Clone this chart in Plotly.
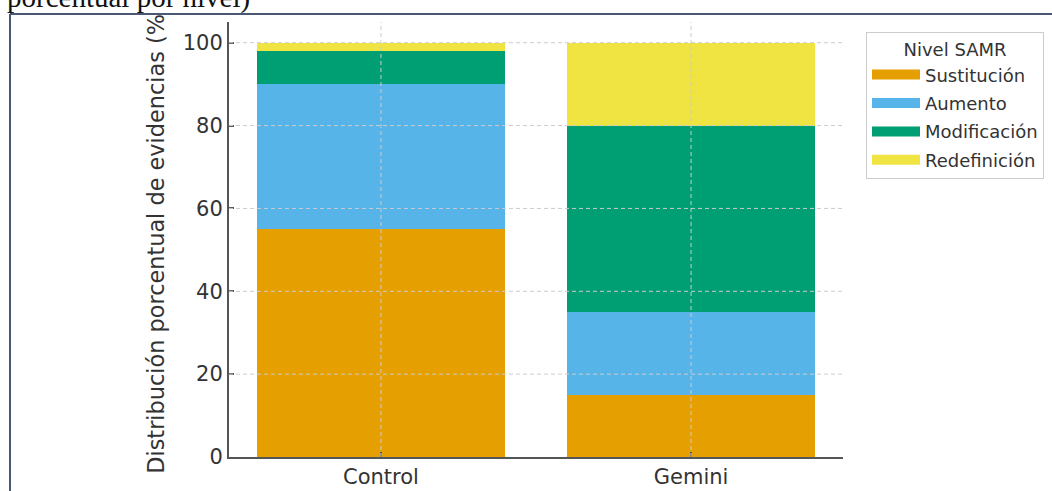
import plotly.graph_objects as go

categories = ["Control", "Gemini"]
levels = ["Sustitución", "Aumento", "Modificación", "Redefinición"]
sustitucion = [55, 15]
aumento = [35, 20]
modificacion = [8, 45]
redefinicion = [2, 20]
series = [sustitucion, aumento, modificacion, redefinicion]
colors = ["#E69F00", "#56B4E9", "#009E73", "#F0E442"]
y_ticks = [0, 20, 40, 60, 80, 100]

y_title = "Distribución porcentual de evidencias (%)"
legend_title = "Nivel SAMR"
caption = "porcentual por nivel)"

W, H = 1052, 491
L, R, T, B = 229, 843, 22, 457  # plot area in px
pw, ph = R - L, B - T


def px_x(px):
    return (px - L) / pw


def px_y(py):
    return (B - py) / ph


TEXT = "#333333"
FONT = "DejaVu Sans"

fig = go.Figure()
for name, vals, col in zip(levels, series, colors):
    fig.add_trace(go.Bar(
        x=categories, y=vals, name=name, marker=dict(color=col, line=dict(width=0)),
        width=0.8, showlegend=False,
    ))
# legend swatches (wide rectangles like the reference)
for name, col in zip(levels, colors):
    fig.add_trace(go.Scatter(
        x=[None], y=[None], mode="lines", name=name, legendgroup=name,
        line=dict(color=col, width=14), showlegend=True, hoverinfo="skip",
    ))

shapes = []
# grid drawn above bars, as in the reference
for yv in y_ticks[1:]:
    shapes.append(dict(type="line", xref="paper", yref="y", x0=0, x1=1, y0=yv, y1=yv,
                       line=dict(color="#cccccc", width=1, dash="4px,3px"), layer="above"))
for i in range(len(categories)):
    shapes.append(dict(type="line", xref="x", yref="paper", x0=i, x1=i, y0=0, y1=1,
                       line=dict(color="#cccccc", width=1, dash="4px,3px"), layer="above"))
# document frame
frame_col = "#4a5873"
shapes.append(dict(type="line", xref="paper", yref="paper", x0=px_x(10), x1=px_x(1060),
                   y0=px_y(14), y1=px_y(14), line=dict(color=frame_col, width=2), layer="above"))
shapes.append(dict(type="line", xref="paper", yref="paper", x0=px_x(10), x1=px_x(10),
                   y0=px_y(14), y1=px_y(500), line=dict(color=frame_col, width=2), layer="above"))

fig.update_layout(
    width=W, height=H,
    margin=dict(l=L, r=W - R, t=T, b=H - B, pad=0, autoexpand=False),
    barmode="stack",
    bargap=0.2,
    plot_bgcolor="white", paper_bgcolor="white",
    font=dict(family=FONT, color=TEXT, size=21),
    shapes=shapes,
    xaxis=dict(
        type="category", range=[-0.49, 1.49], showgrid=False, zeroline=False,
        showline=True, linecolor="#555555", linewidth=2, automargin=False,
        ticks="inside", ticklen=5, tickwidth=1.5, tickcolor="#555555",
        tickfont=dict(size=21, color=TEXT),
    ),
    yaxis=dict(
        range=[0, 105], tickvals=y_ticks, showgrid=False, zeroline=False,
        showline=True, linecolor="#555555", linewidth=2, automargin=False,
        ticks="inside", ticklen=5, tickwidth=1.5, tickcolor="#555555",
        tickfont=dict(size=21, color=TEXT),
        title=dict(text=y_title, font=dict(size=22.4, color=TEXT), standoff=12),
    ),
    legend=dict(
        x=px_x(866), y=px_y(32), xanchor="left", yanchor="top",
        bgcolor="white", bordercolor="#cccccc", borderwidth=1,
        font=dict(size=18, color=TEXT, family=FONT),
        title=dict(text=legend_title, side="top center", font=dict(size=18, color=TEXT)),
        traceorder="grouped", tracegroupgap=2, itemwidth=48,
    ),
    annotations=[
        # white mask: the page above the frame line hides the top of the axis title
        dict(text=" ", xref="paper", yref="paper", x=px_x(135), y=px_y(13),
             xanchor="left", yanchor="bottom", showarrow=False, bgcolor="white",
             width=50, height=14, borderpad=0, borderwidth=0),
        dict(text=caption, xref="paper", yref="paper", x=px_x(5), y=px_y(16),
             xanchor="left", yanchor="bottom", showarrow=False,
             font=dict(family="Liberation Serif", size=29, color="#111111")),
    ],
)

fig.write_html("out.html", config={"displayModeBar": False},
               post_script="document.body.style.margin='0';")
